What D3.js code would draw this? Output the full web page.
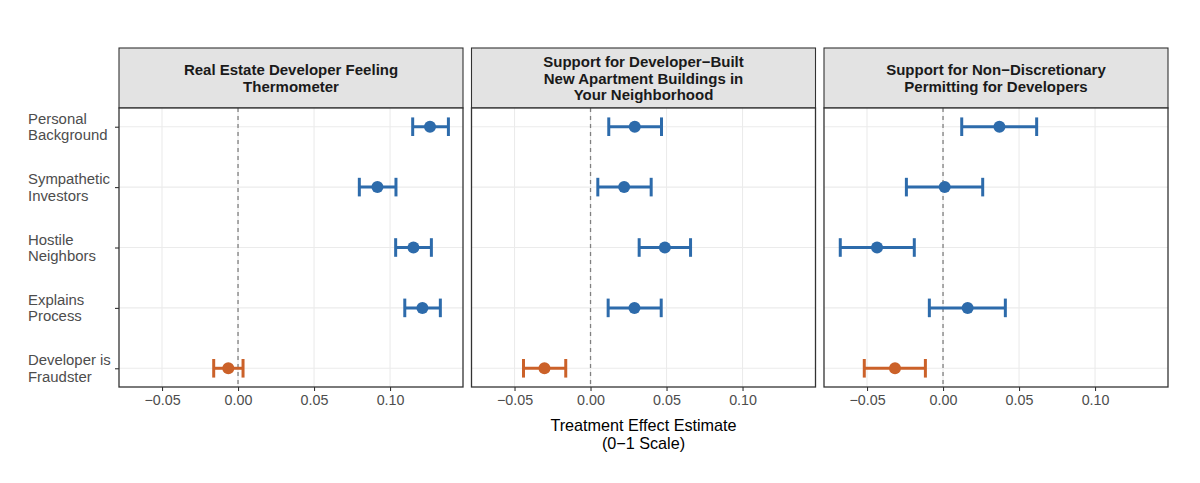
<!DOCTYPE html>
<html>
<head>
<meta charset="utf-8">
<script src="https://cdn.jsdelivr.net/npm/d3@7"></script>
<style>
  body { margin: 0; background: #fff; }
  svg { display: block; }
</style>
</head>
<body>
<svg id="chart" width="1200" height="483"></svg>
<script>
// ---- data ----
const categories = ["Personal Background", "Sympathetic Investors", "Hostile Neighbors", "Explains Process", "Developer is Fraudster"];
const categoryLines = [["Personal", "Background"], ["Sympathetic", "Investors"], ["Hostile", "Neighbors"], ["Explains", "Process"], ["Developer is", "Fraudster"]];
const panelTitles = [
  ["Real Estate Developer Feeling", "Thermometer"],
  ["Support for Developer\u2212Built", "New Apartment Buildings in", "Your Neighborhood"],
  ["Support for Non\u2212Discretionary", "Permitting for Developers"]
];
const estimates = [
  [0.1263, 0.0917, 0.1154, 0.1213, -0.0064],
  [0.0291, 0.0221, 0.0489, 0.0289, -0.0303],
  [0.0371, 0.0011, -0.0434, 0.0162, -0.0316]
];
const lower = [
  [0.1149, 0.0798, 0.1037, 0.1097, -0.0160],
  [0.0120, 0.0048, 0.0320, 0.0116, -0.0441],
  [0.0123, -0.0241, -0.0676, -0.0090, -0.0518]
];
const upper = [
  [0.1384, 0.1039, 0.1272, 0.1331, 0.0033],
  [0.0467, 0.0399, 0.0658, 0.0465, -0.0163],
  [0.0616, 0.0261, -0.0189, 0.0410, -0.0116]
];
const groups = ["Other", "Other", "Other", "Other", "Fraudster"];
const xTicks = [-0.05, 0, 0.05, 0.10];
const xTitle = ["Treatment Effect Estimate", "(0\u22121 Scale)"];

// ---- layout ----
const svg = d3.select("#chart");
const font = "'Liberation Sans', Arial, Helvetica, sans-serif";
const panelLeft = 119, panelW = 344, gap = 8.5;
const stripTop = 48, stripH = 60, plotTop = 108, plotH = 279;

const x = d3.scaleLinear().domain([-0.0783, 0.1480]).range([0, panelW]);
const y = d3.scalePoint().domain(categories).range([0, plotH]).padding(0.31);
const color = d3.scaleOrdinal().domain(["Other", "Fraudster"]).range(["#2D6BAB", "#CB6129"]);
const fmt = v => (v < 0 ? "\u2212" : "") + d3.format(".2f")(Math.abs(v));

panelTitles.forEach((title, p) => {
  const px = panelLeft + p * (panelW + gap);
  const g = svg.append("g").attr("transform", `translate(${px},0)`);

  // strip
  g.append("rect").attr("x", 0).attr("y", stripTop).attr("width", panelW).attr("height", stripH)
    .attr("fill", "#E3E3E3").attr("stroke", "#333").attr("stroke-width", 1.1);
  const lh = 16.5;
  const t = g.append("text").attr("font-family", font).attr("font-weight", "bold")
    .attr("font-size", "15px").attr("fill", "#1A1A1A").attr("text-anchor", "middle");
  title.forEach((line, i) => {
    t.append("tspan").attr("x", panelW / 2)
      .attr("y", stripTop + stripH / 2 + (i - (title.length - 1) / 2) * lh + 5.5)
      .text(line);
  });

  const pg = g.append("g").attr("transform", `translate(0,${plotTop})`);
  pg.append("rect").attr("width", panelW).attr("height", plotH).attr("fill", "#fff");

  // grid
  pg.selectAll(".vg").data(xTicks).join("line")
    .attr("x1", d => x(d)).attr("x2", d => x(d)).attr("y1", 0).attr("y2", plotH)
    .attr("stroke", "#EBEBEB").attr("stroke-width", 1.1);
  pg.selectAll(".hg").data(categories).join("line")
    .attr("x1", 0).attr("x2", panelW).attr("y1", d => y(d)).attr("y2", d => y(d))
    .attr("stroke", "#EBEBEB").attr("stroke-width", 1.1);

  // zero line
  pg.append("line").attr("x1", x(0)).attr("x2", x(0)).attr("y1", 0).attr("y2", plotH)
    .attr("stroke", "#808080").attr("stroke-width", 1.3).attr("stroke-dasharray", "4,4");

  // error bars
  const rows = categories.map((c, i) => ({ c, est: estimates[p][i], lo: lower[p][i], hi: upper[p][i], grp: groups[i] }));
  const capH = 9.3;
  const eb = pg.selectAll(".eb").data(rows).join("g");
  eb.append("line").attr("x1", d => x(d.lo)).attr("x2", d => x(d.hi))
    .attr("y1", d => y(d.c)).attr("y2", d => y(d.c))
    .attr("stroke", d => color(d.grp)).attr("stroke-width", 3);
  eb.append("line").attr("x1", d => x(d.lo)).attr("x2", d => x(d.lo))
    .attr("y1", d => y(d.c) - capH).attr("y2", d => y(d.c) + capH)
    .attr("stroke", d => color(d.grp)).attr("stroke-width", 3);
  eb.append("line").attr("x1", d => x(d.hi)).attr("x2", d => x(d.hi))
    .attr("y1", d => y(d.c) - capH).attr("y2", d => y(d.c) + capH)
    .attr("stroke", d => color(d.grp)).attr("stroke-width", 3);
  eb.append("circle").attr("cx", d => x(d.est)).attr("cy", d => y(d.c)).attr("r", 6)
    .attr("fill", d => color(d.grp));

  // border
  pg.append("rect").attr("width", panelW).attr("height", plotH).attr("fill", "none")
    .attr("stroke", "#333").attr("stroke-width", 1.3);

  // x axis
  const xa = pg.append("g").attr("transform", `translate(0,${plotH})`)
    .call(d3.axisBottom(x).tickValues(xTicks).tickFormat(fmt).tickSize(4).tickPadding(4));
  xa.select(".domain").remove();
  xa.selectAll(".tick line").attr("stroke", "#333").attr("stroke-width", 1.1);
  xa.selectAll(".tick text").attr("font-family", font).attr("font-size", "14.3px").attr("fill", "#4D4D4D");

  // y axis (first panel only)
  if (p === 0) {
    const ya = pg.append("g").call(d3.axisLeft(y).tickSize(4).tickFormat(""));
    ya.select(".domain").remove();
    ya.selectAll(".tick line").attr("stroke", "#333").attr("stroke-width", 1.1);
    categories.forEach((c, i) => {
      const lines = categoryLines[i];
      const tt = pg.append("text").attr("font-family", font).attr("font-size", "14.9px")
        .attr("fill", "#4D4D4D").attr("text-anchor", "start");
      lines.forEach((ln, j) => {
        tt.append("tspan").attr("x", 28 - panelLeft)
          .attr("y", y(c) + (j - (lines.length - 1) / 2) * 16.5 + 5.3)
          .text(ln);
      });
    });
  }
});

// x axis title
const totalW = 3 * panelW + 2 * gap;
const xt = svg.append("text").attr("font-family", font).attr("font-size", "16.2px")
  .attr("fill", "#000").attr("text-anchor", "middle");
xTitle.forEach((ln, i) => {
  xt.append("tspan").attr("x", panelLeft + totalW / 2).attr("y", 431 + i * 18).text(ln);
});
</script>
</body>
</html>
